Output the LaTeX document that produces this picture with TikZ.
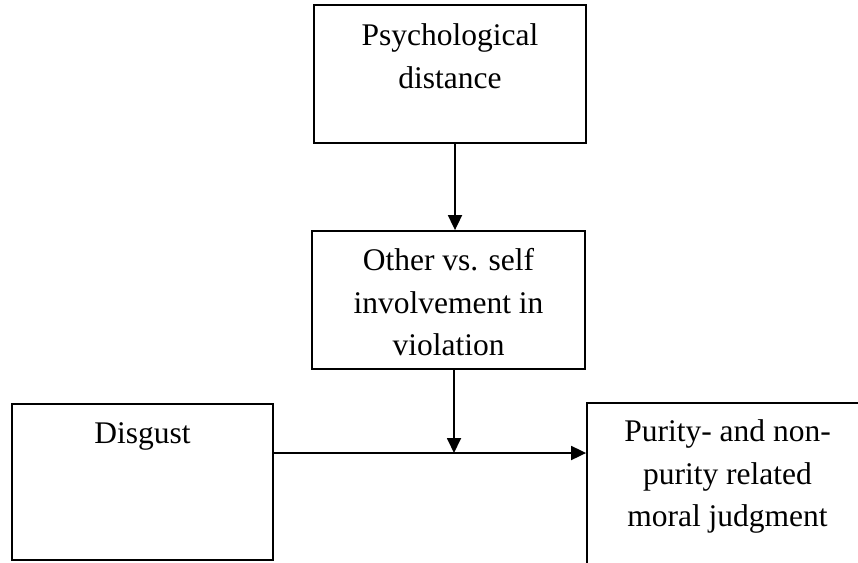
\documentclass[tikz,border=0pt]{standalone}
\usepackage{fontspec}
\setmainfont{Liberation Serif}
\usetikzlibrary{arrows.meta,calc}
\tikzset{
  box/.style={draw=black, line width=1.8pt, inner sep=0pt, fill=white},
  lbl/.style={align=center, inner sep=0pt, anchor=north, font=\fontsize{31.5}{42.5}\selectfont},
  arr/.style={line width=1.8pt, -{Triangle[length=15pt,width=14pt]}}
}
\begin{document}
\begin{tikzpicture}[x=1pt,y=-1pt]
\useasboundingbox (0,0) rectangle (858,562);
\clip (0,0) rectangle (858,562);
\fill[white] (0,0) rectangle (858,562);
% boxes
\node[box, minimum width=272pt, minimum height=138pt] (psy) at (450,74) {};
\node[box, minimum width=273pt, minimum height=138pt] (oth) at (448.5,300) {};
\node[box, minimum width=261pt, minimum height=156pt] (dis) at (142.5,482) {};
\node[box, minimum width=281pt, minimum height=200pt] (pur) at (727.5,503) {};
% labels
\node[lbl] (psyt) at (450,23.5) {Psychological\\distance};
\node[lbl] (otht) at (448.5,248.5) {Other vs. self\\involvement in\\violation};
\node[lbl] (dist) at (142.5,422) {Disgust};
\node[lbl] (purt) at (727.5,419.5) {Purity- and non-\\purity related\\moral judgment};
% connectors
\coordinate (j) at (454,453);
\draw[arr] ([xshift=5pt]psy.south) -- ([xshift=5pt]psy.south |- oth.north);
\draw[arr] (oth.south -| j) -- (j);
\draw[arr] (dis.east |- j) -- (pur.west |- j);
\end{tikzpicture}
\end{document}
